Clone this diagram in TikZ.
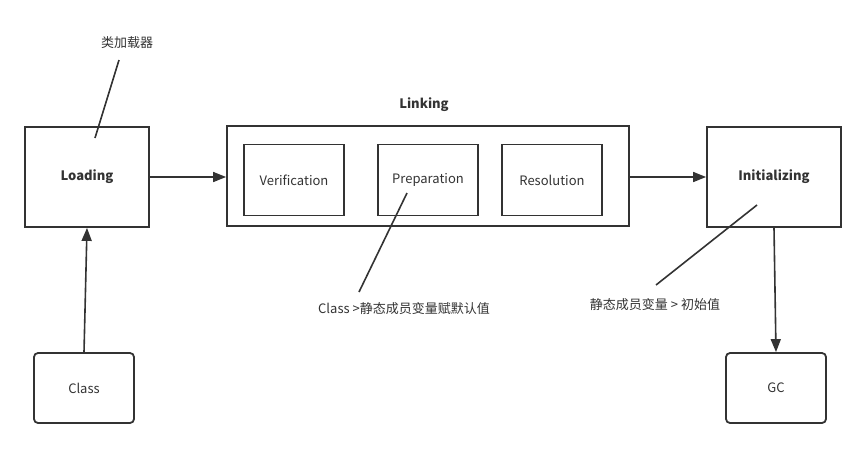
\documentclass[tikz,border=0pt]{standalone}
\usepackage{fontspec}
\setmainfont{Noto Sans CJK SC}
\usetikzlibrary{arrows.meta}

\definecolor{ink}{HTML}{333333}
\tikzset{
	stage/.style={draw=ink, line width=1.8pt, text=ink, font=\fontsize{13}{15}\selectfont\bfseries},
	title/.style={text=ink, inner sep=0pt, font=\fontsize{13}{15}\selectfont\bfseries},
	substage/.style={draw=ink, line width=1.8pt, text=ink, minimum width=100pt, minimum height=71pt, font=\fontsize{13}{15}\selectfont},
	endbox/.style={draw=ink, line width=1.8pt, rounded corners=4pt, text=ink, minimum width=100pt, minimum height=70pt, font=\fontsize{13}{15}\selectfont},
	note/.style={text=ink, inner sep=0pt, font=\fontsize{13}{15}\selectfont},
	flow/.style={draw=ink, line width=1.6pt, -{Triangle[length=13pt,width=10pt]}},
	pointer/.style={draw=ink, line width=1.6pt}
}

\begin{document}
\begin{tikzpicture}[x=1pt, y=-1pt]
		\useasboundingbox (0, 0) rectangle (865, 448);

		\node[stage, minimum width=124pt, minimum height=100pt] (loading) at (87, 177) {Loading};
		\node[stage, minimum width=402pt, minimum height=100pt] (linking) at (428, 176) {};
		\node[title] (linkingname) at (424, 105) {Linking};
		\node[stage, minimum width=134pt, minimum height=100pt] (init) at (774, 177) {Initializing};

		\node[substage] (verify) at (294, 180) {Verification};
		\node[substage] (prepare) at (428, 180) {Preparation};
		\node[substage] (resolve) at (552, 180) {Resolution};

		\node[endbox] (class) at (84, 388) {Class};
		\node[endbox] (gc) at (776, 388) {GC};

		\node[note] (loadernote) at (127, 43) {类加载器};
		\node[note] (preparenote) at (404, 309) {Class >静态成员变量赋默认值};
		\node[note] (initnote) at (655, 305) {静态成员变量 > 初始值};

		\coordinate (loadertop) at (119, 60);
		\coordinate (loaderend) at (95, 138);
		\coordinate (preparetop) at (407, 193);
		\coordinate (prepareend) at (359, 292);
		\coordinate (inittop) at (757, 205);
		\coordinate (initend) at (656, 285);

		\draw[flow] (loading.east) -- (loading.east -| linking.west);
		\draw[flow] (linking.east |- init.west) -- (init.west);
		\draw[flow] (class.north) -- (loading.south);
		\draw[flow] (init.south) -- (gc.north);

		\draw[pointer] (loadertop) -- (loaderend);
		\draw[pointer] (preparetop) -- (prepareend);
		\draw[pointer] (inittop) -- (initend);
	\end{tikzpicture}
\end{document}
